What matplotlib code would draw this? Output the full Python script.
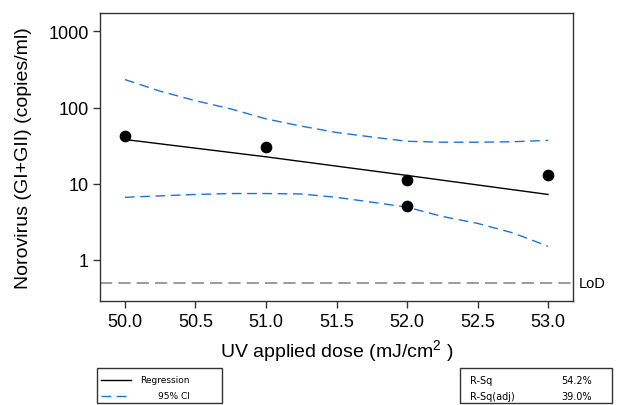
import matplotlib
matplotlib.use("Agg")
import matplotlib.pyplot as plt
from matplotlib.patches import Rectangle
from matplotlib.lines import Line2D

# ---- data ----
dose = [50.0, 51.0, 52.0, 52.0, 53.0]
norovirus = [42, 30, 11, 5, 13]

reg_x = [50.0, 51.0, 52.0, 53.0]
reg_y = [38, 22.5, 12.8, 7.2]

ci_x = [50.0, 50.25, 50.5, 50.75, 51.0, 51.25, 51.5, 51.75, 52.0, 52.25, 52.5, 52.75, 53.0]
ci_upper = [233, 164, 123, 96, 71, 57, 47, 41, 36, 35, 35, 35.5, 37]
ci_lower = [6.6, 6.9, 7.2, 7.4, 7.4, 7.3, 6.6, 5.7, 4.9, 3.7, 3.0, 2.25, 1.5]

lod = 0.5
xticks = [50.0, 50.5, 51.0, 51.5, 52.0, 52.5, 53.0]
yticks = [1, 10, 100, 1000]
ytick_labels = ["1", "10", "100", "1000"]
stats_labels = ["R-Sq", "R-Sq(adj)"]
stats_values = ["54.2%", "39.0%"]

W, H = 617, 406
plt.rcParams['font.family'] = ['Liberation Sans', 'DejaVu Sans']
plt.rcParams['mathtext.fontset'] = 'custom'
plt.rcParams['mathtext.rm'] = 'Liberation Sans'
fig = plt.figure(figsize=(W / 100, H / 100), dpi=100)

def fx(x):
    return x / W

def fy(y):
    return 1 - y / H

ax_l, ax_r, ax_t, ax_b = 100, 573, 14, 302
ax = fig.add_axes([fx(ax_l), fy(ax_b), (ax_r - ax_l) / W, (ax_b - ax_t) / H])

blue = '#1a74d9'
ax.plot(ci_x, ci_upper, color=blue, lw=1.0, dashes=(7, 4))
ax.plot(ci_x, ci_lower, color=blue, lw=1.0, dashes=(7, 4))
ax.plot(reg_x, reg_y, color='black', lw=1.0)
ax.scatter(dose, norovirus, s=55, color='black', zorder=5)
ax.axhline(lod, color='#808080', lw=1.1, dashes=(8, 4))

ax.set_yscale('log')
ax.set_xlim(49.823, 53.177)
ax.set_ylim(0.286, 1750)
ax.set_xticks(xticks)
ax.set_xticklabels([f"{t:.1f}" for t in xticks])
ax.set_yticks(yticks)
ax.set_yticklabels(ytick_labels)
ax.minorticks_off()
ax.tick_params(axis='both', direction='out', length=5, width=1, labelsize=13,
               colors='#333333', labelcolor='black')
ax.tick_params(axis='y', pad=3)
ax.tick_params(axis='x', pad=4)
for s in ax.spines.values():
    s.set_color('#333333')
    s.set_linewidth(1.0)

ax.set_xlabel(r"UV applied dose (mJ/cm$^{\mathrm{2}}$ )", fontsize=14, labelpad=5)
ax.set_ylabel("Norovirus (GI+GII) (copies/ml)", fontsize=14, labelpad=12)

ax.text(1.012, lod, "LoD", transform=ax.get_yaxis_transform(), fontsize=10.5, va='center', ha='left')

# legend box
fig.patches.append(Rectangle((fx(97), fy(404)), (222 - 97) / W, (404 - 369) / H,
                             transform=fig.transFigure, fill=False, edgecolor='#333333', lw=1.0))
fig.lines.append(Line2D([fx(101), fx(131)], [fy(381), fy(381)], transform=fig.transFigure,
                        color='black', lw=1.0))
fig.lines.append(Line2D([fx(101), fx(131)], [fy(397), fy(397)], transform=fig.transFigure,
                        color=blue, lw=1.0, dashes=(7, 4)))
fig.text(fx(190), fy(381), "Regression", fontsize=6.5, ha='right', va='center', family='DejaVu Sans')
fig.text(fx(190), fy(397), "95% CI", fontsize=6.5, ha='right', va='center', family='DejaVu Sans')

# stats box
fig.patches.append(Rectangle((fx(460), fy(404)), (612 - 460) / W, (404 - 369) / H,
                             transform=fig.transFigure, fill=False, edgecolor='#333333', lw=1.0))
for i, (lab, val) in enumerate(zip(stats_labels, stats_values)):
    yy = 381 + 16 * i
    fig.text(fx(470), fy(yy), lab, fontsize=7, ha='left', va='center', family='DejaVu Sans')
    fig.text(fx(561), fy(yy), val, fontsize=7, ha='left', va='center', family='DejaVu Sans')

fig.savefig("out.png", dpi=100)
